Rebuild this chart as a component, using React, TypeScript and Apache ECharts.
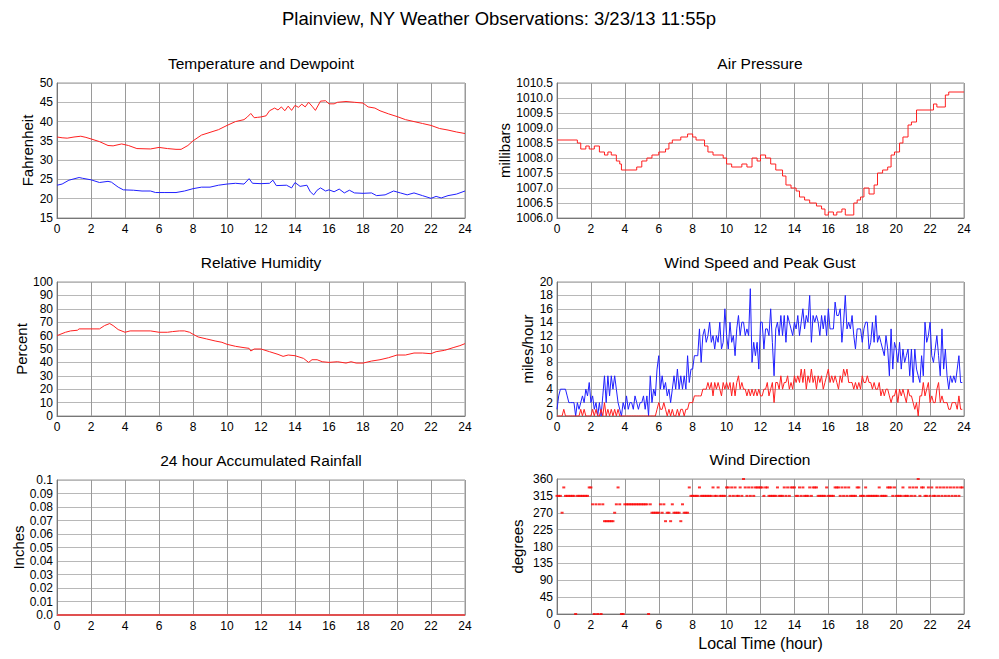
import React, { useEffect, useRef } from "react";
import * as echarts from "echarts";

const FONT = '"Liberation Sans", Arial, Helvetica, sans-serif';

const mainTitle = "Plainview, NY Weather Observations: 3/23/13 11:55p";
const hourTicks = [0, 2, 4, 6, 8, 10, 12, 14, 16, 18, 20, 22, 24];

// Temperature (F) [hour, value]
const temperature: [number, number][] = [
  [0, 36], [0.3, 35.8], [0.6, 35.7], [1, 36], [1.4, 36.2], [1.7, 35.9], [2, 35.5], [2.5, 34.8], [3, 33.8], [3.3, 33.7],
  [3.8, 34.2], [4.2, 33.8], [4.7, 33.0], [5.5, 32.9], [6, 33.3], [6.5, 33.0], [7, 32.8], [7.3, 32.8], [7.7, 33.8],
  [8, 35], [8.5, 36.5], [9, 37.2], [9.5, 37.9], [10, 39.0], [10.5, 40.0], [11, 40.5], [11.2, 41.2], [11.4, 42.1],
  [11.6, 41.0], [11.8, 41.1], [12, 41.2], [12.3, 41.5], [12.5, 42.8], [12.8, 43.5], [13, 43.0], [13.2, 43.8],
  [13.4, 42.8], [13.6, 44.0], [13.8, 42.9], [14, 44.2], [14.2, 43.7], [14.4, 44.5], [14.6, 43.8], [14.8, 45.0],
  [15.0, 44.0], [15.2, 42.9], [15.5, 45.3], [15.8, 45.4], [16, 44.6], [16.3, 44.6], [16.5, 45.0], [17, 45.2],
  [17.5, 45.0], [18, 44.8], [18.3, 43.8], [18.7, 43.5], [19, 42.8], [19.5, 42.0], [20, 41.3], [20.5, 40.5],
  [21, 40.0], [21.5, 39.5], [22, 39.0], [22.5, 38.2], [23, 37.8], [23.5, 37.3], [24, 36.9],
];

// Dewpoint (F)
const dewpoint: [number, number][] = [
  [0, 23.5], [0.3, 23.8], [0.7, 24.8], [1.3, 25.5], [1.5, 25.3], [2, 24.9], [2.5, 24.2], [3, 24.5], [3.2, 24.3],
  [3.6, 23.0], [3.9, 22.3], [4.5, 22.2], [5, 22.0], [5.5, 22.0], [5.8, 21.6], [6.3, 21.6], [7, 21.6], [7.5, 22.0],
  [8, 22.6], [8.5, 23.0], [9, 23.0], [9.5, 23.5], [10, 23.8], [10.5, 24.0], [11, 23.8], [11.3, 25.2], [11.5, 24.0],
  [12, 23.9], [12.5, 24.0], [12.7, 24.8], [12.9, 23.4], [13.5, 23.5], [13.8, 22.8], [14, 24.2], [14.3, 23.2],
  [14.7, 23.5], [14.9, 21.8], [15.1, 21.0], [15.3, 22.2], [15.5, 22.8], [15.8, 22.0], [16, 22.3], [16.3, 21.8],
  [16.6, 22.5], [16.9, 21.5], [17.2, 22.2], [17.5, 21.5], [18, 21.4], [18.5, 21.5], [18.8, 20.8], [19.3, 21.0],
  [19.8, 22.0], [20.2, 21.5], [20.6, 21.0], [21, 21.5], [21.5, 20.8], [22, 20.1], [22.3, 20.6], [22.6, 20.2],
  [23, 20.8], [23.5, 21.2], [24, 22.0],
];

// Air pressure (mb), value starting at given hour
const pressure: [number, number][] = [
  [0, 1008.6], [1.2, 1008.5], [1.4, 1008.3], [1.7, 1008.4], [1.9, 1008.3], [2.2, 1008.4], [2.5, 1008.2],
  [2.8, 1008.1], [3.0, 1008.2], [3.2, 1008.1], [3.5, 1007.9], [3.7, 1007.8], [3.8, 1007.6], [4.7, 1007.7],
  [5.0, 1007.9], [5.3, 1008.0], [5.6, 1008.1], [6.0, 1008.2], [6.4, 1008.3], [6.6, 1008.5], [6.8, 1008.6],
  [7.3, 1008.7], [7.7, 1008.8], [8.0, 1008.7], [8.2, 1008.6], [8.7, 1008.4], [8.9, 1008.2], [9.2, 1008.1],
  [9.8, 1008.0], [10.0, 1007.8], [10.3, 1007.7], [10.9, 1007.8], [11.2, 1007.7], [11.5, 1008.0], [11.8, 1007.9],
  [12.0, 1008.1], [12.3, 1008.0], [12.6, 1007.8], [12.9, 1007.6], [13.3, 1007.4], [13.5, 1007.1], [13.8, 1007.0],
  [14.1, 1006.9], [14.3, 1006.7], [14.6, 1006.6], [14.9, 1006.5], [15.3, 1006.4], [15.6, 1006.3], [15.8, 1006.1],
  [16.0, 1006.2], [16.3, 1006.1], [16.5, 1006.2], [16.8, 1006.3], [17.0, 1006.1], [17.5, 1006.5], [17.7, 1006.6],
  [17.9, 1006.7], [18.1, 1007.0], [18.4, 1006.8], [18.7, 1007.1], [18.9, 1007.5], [19.2, 1007.6], [19.5, 1007.7],
  [19.7, 1008.1], [19.9, 1008.2], [20.2, 1008.5], [20.4, 1008.7], [20.7, 1009.1], [20.9, 1009.2], [21.2, 1009.6],
  [22.2, 1009.8], [22.4, 1009.7], [22.9, 1010.1], [23.1, 1010.2], [24, 1010.2],
];

// Relative humidity (%)
const humidity: [number, number][] = [
  [0, 60], [0.5, 62.5], [0.8, 63.5], [1.2, 64], [1.3, 65], [2, 65], [2.5, 65], [2.8, 67.5], [3.1, 69], [3.3, 67.5],
  [3.6, 64.5], [4, 62.5], [4.3, 63.5], [5, 63.5], [5.5, 63.5], [6, 62.5], [6.5, 62.5], [6.8, 63], [7.2, 63.5],
  [7.5, 63.5], [7.8, 62.5], [8, 61], [8.3, 59], [8.8, 57.5], [9.3, 56], [9.7, 55], [10, 53.5], [10.5, 52], [11, 51],
  [11.3, 50.5], [11.4, 48.5], [11.6, 50], [12, 50], [12.5, 48], [13, 46], [13.3, 44.5], [13.6, 45.5], [14, 45],
  [14.5, 43], [14.8, 40], [15, 42], [15.3, 42], [15.6, 40.5], [16, 40], [16.5, 40.5], [17, 39.5], [17.3, 40.5],
  [17.6, 39.5], [18, 39.5], [18.5, 41], [19, 42], [19.5, 43.5], [20, 45.5], [20.5, 45.5], [21, 47], [21.5, 47],
  [22, 46.5], [22.3, 48], [22.8, 49], [23.3, 51], [23.7, 52.5], [24, 54],
];

// Wind gust (mph), every 0.1 hour from 0.0 to 23.9
const windGust = [
  1, 3, 4, 4, 4, 4, 3, 2, 2, 2,
  2, 0, 2, 1, 2, 3, 2, 4, 3, 5,
  2, 3, 1, 2, 0, 2, 0, 3, 6, 2,
  6, 3, 6, 4, 6, 4, 2, 1, 0, 2,
  1, 3, 1, 2, 2, 1, 3, 2, 1, 2,
  2, 3, 1, 3, 0, 6, 2, 4, 3, 7,
  9, 4, 6, 4, 5, 3, 4, 2, 4, 6,
  4, 7, 4, 6, 4, 6, 4, 9, 5, 7,
  7, 9, 9, 9, 13, 8, 12, 13, 11, 12,
  14, 11, 12, 10, 12, 11, 14, 10, 11, 16,
  12, 10, 14, 11, 12, 9, 13, 15, 12, 14,
  14, 12, 13, 12, 19, 8, 11, 9, 11, 7,
  14, 14, 10, 13, 13, 12, 16, 11, 6, 13,
  14, 12, 15, 12, 15, 11, 15, 14, 13, 12,
  14, 13, 15, 12, 14, 16, 13, 15, 14, 18,
  11, 15, 14, 15, 14, 12, 15, 13, 15, 12,
  16, 13, 13, 13, 17, 15, 15, 16, 11, 14,
  18, 13, 14, 13, 15, 12, 10, 13, 13, 13,
  11, 13, 14, 14, 10, 11, 14, 11, 15, 11,
  12, 11, 10, 9, 12, 10, 6, 13, 7, 11,
  10, 8, 11, 7, 10, 8, 9, 10, 6, 10,
  5, 10, 7, 6, 5, 9, 6, 14, 11, 12,
  14, 9, 8, 10, 12, 9, 6, 13, 7, 10,
  6, 4, 6, 5, 6, 5, 7, 9, 5, 5,
];

// Wind speed (mph), every 0.1 hour from 0.0 to 23.9
const windSpeed = [
  0, 0, 0, 0, 1, 0, 0, 0, 0, 0,
  0, 0, 0, 0, 1, 0, 1, 0, 0, 0,
  0, 1, 0, 1, 0, 0, 1, 0, 2, 0,
  1, 0, 1, 0, 1, 0, 1, 0, 0, 0,
  0, 0, 0, 0, 0, 0, 0, 0, 0, 0,
  0, 0, 0, 0, 0, 0, 0, 0, 0, 1,
  2, 1, 1, 2, 1, 0, 1, 0, 1, 0,
  0, 1, 0, 1, 1, 0, 1, 1, 2, 2,
  2, 3, 3, 3, 3, 3, 4, 4, 4, 5,
  4, 5, 3, 5, 4, 5, 4, 3, 5, 4,
  5, 4, 5, 3, 5, 3, 5, 6, 4, 5,
  4, 4, 3, 4, 3, 4, 3, 4, 3, 4,
  3, 3, 4, 4, 5, 3, 4, 5, 2, 5,
  5, 4, 6, 4, 5, 5, 6, 4, 5, 4,
  6, 5, 6, 5, 7, 5, 7, 4, 6, 5,
  7, 5, 6, 4, 6, 5, 6, 4, 5, 6,
  7, 5, 6, 5, 6, 5, 4, 6, 5, 7,
  6, 7, 5, 5, 5, 4, 5, 4, 5, 4,
  6, 5, 5, 6, 5, 5, 4, 5, 4, 4,
  5, 3, 4, 3, 4, 4, 3, 2, 3, 3,
  4, 2, 4, 3, 4, 3, 2, 4, 3, 3,
  2, 1, 2, 0, 3, 3, 5, 3, 4, 5,
  2, 3, 2, 2, 4, 5, 2, 3, 2, 2,
  2, 1, 1, 2, 2, 2, 1, 3, 1, 1,
];

// Wind direction (degrees), every 0.1 hour from 0.0 to 23.9
const windDirection = [
  315, 315, 315, 270, 337.5, 315, 315, 315, 315, 315,
  315, 0, 315, 315, 315, 315, 315, 315, 315, 337.5,
  337.5, 292.5, 0, 292.5, 0, 292.5, 0, 292.5, 247.5, 247.5,
  247.5, 247.5, 247.5, 247.5, 270, 292.5, 337.5, 292.5, 0, 0,
  292.5, 292.5, 292.5, 292.5, 292.5, 292.5, 292.5, 292.5, 292.5, 292.5,
  292.5, 292.5, 292.5, 292.5, 0, 292.5, 270, 270, 270, 270,
  270, 292.5, 270, 292.5, 247.5, 270, 270, 247.5, 292.5, 270,
  270, 270, 270, 247.5, 292.5, 270, 270, 270, 337.5, 315,
  315, 315, 315, 315, 337.5, 315, 315, 315, 315, 315,
  315, 315, 337.5, 315, 315, 337.5, 315, 315, 315, 315,
  337.5, 337.5, 315, 337.5, 315, 337.5, 315, 315, 337.5, 315,
  360, 337.5, 315, 337.5, 315, 337.5, 315, 337.5, 337.5, 337.5,
  337.5, 337.5, 315, 337.5, 337.5, 315, 315, 315, 315, 315,
  337.5, 315, 315, 315, 337.5, 315, 337.5, 315, 337.5, 337.5,
  337.5, 315, 315, 337.5, 315, 337.5, 315, 315, 315, 337.5,
  315, 337.5, 337.5, 337.5, 315, 315, 315, 315, 315, 337.5,
  315, 315, 315, 315, 337.5, 337.5, 337.5, 315, 337.5, 315,
  337.5, 315, 337.5, 315, 315, 315, 315, 337.5, 337.5, 315,
  315, 315, 337.5, 315, 315, 315, 315, 315, 315, 315,
  337.5, 315, 315, 315, 315, 337.5, 337.5, 337.5, 315, 337.5,
  315, 315, 315, 315, 337.5, 315, 315, 315, 337.5, 315,
  337.5, 315, 337.5, 360, 315, 337.5, 337.5, 315, 315, 337.5,
  315, 337.5, 315, 315, 337.5, 315, 337.5, 315, 337.5, 315,
  337.5, 315, 337.5, 315, 337.5, 315, 337.5, 315, 337.5, 337.5,
];

// Rainfall accumulation (inches)
const rainfall: [number, number][] = [[0, 0], [24, 0]];

const panelTitles = [
  "Temperature and Dewpoint",
  "Air Pressure",
  "Relative Humidity",
  "Wind Speed and Peak Gust",
  "24 hour Accumulated Rainfall",
  "Wind Direction",
];
const yNames = ["Fahrenheit", "millibars", "Percent", "miles/hour", "Inches", "degrees"];
const xName = "Local Time (hour)";

const tenthHours = (vals: number[]) => vals.map((v, i) => [i / 10, v]);

export default function App() {
  const ref = useRef<HTMLDivElement>(null);
  useEffect(() => {
    if (!ref.current) return;
    const chart = echarts.init(ref.current, undefined, { renderer: "svg" });

    const grids = [
      { left: 57, top: 83, width: 408, height: 135 },
      { left: 557, top: 83, width: 407, height: 135 },
      { left: 57, top: 282, width: 408, height: 134 },
      { left: 557, top: 282, width: 407, height: 134 },
      { left: 57, top: 480, width: 408, height: 135 },
      { left: 557, top: 479, width: 407, height: 135 },
    ].map((g) => ({ ...g, show: true, borderColor: "#999", borderWidth: 1, backgroundColor: "#fff" }));

    const labelStyle = { color: "#000", fontFamily: FONT, fontSize: 12 };
    const xAxes = grids.map((_, i) => ({
      type: "value",
      gridIndex: i,
      min: 0,
      max: 24,
      interval: 2,
      axisLine: { show: true, lineStyle: { color: "#777", width: 1 } },
      axisTick: { show: false },
      axisLabel: { ...labelStyle, margin: 5 },
      splitLine: { show: true, lineStyle: { color: "#9a9a9a", width: 1 } },
      name: i === 5 ? xName : "",
      nameLocation: "middle",
      nameGap: 21,
      nameTextStyle: { color: "#000", fontFamily: FONT, fontSize: 16 },
    }));

    const yCfg = [
      { min: 15, max: 50, interval: 5, gap: 22, fmt: (v: number) => String(v) },
      { min: 1006, max: 1010.5, interval: 0.5, gap: 42, fmt: (v: number) => v.toFixed(1) },
      { min: 0, max: 100, interval: 10, gap: 28, fmt: (v: number) => String(v) },
      { min: 0, max: 20, interval: 2, gap: 22, fmt: (v: number) => String(v) },
      {
        min: 0, max: 0.1, interval: 0.01, gap: 31,
        fmt: (v: number) => {
          const r = Math.round(v * 100);
          if (r === 0) return "0.0";
          if (r === 10) return "0.1";
          return (r / 100).toFixed(2);
        },
      },
      { min: 0, max: 360, interval: 45, gap: 32, fmt: (v: number) => String(v) },
    ];
    const yAxes = yCfg.map((c, i) => ({
      type: "value",
      gridIndex: i,
      min: c.min,
      max: c.max,
      interval: c.interval,
      name: yNames[i],
      nameLocation: "middle",
      nameGap: c.gap,
      nameRotate: 90,
      nameTextStyle: { color: "#000", fontFamily: FONT, fontSize: 15 },
      axisLine: { show: true, lineStyle: { color: "#777", width: 1 } },
      axisTick: { show: false },
      axisLabel: { ...labelStyle, margin: 4, formatter: c.fmt },
      splitLine: { show: true, lineStyle: { color: "#b8b8b8", width: 1 } },
    }));

    const centers = [261, 760, 261, 760, 261, 760];
    const titleTops = [55, 55, 254, 254, 452, 451];
    const titles: any[] = [
      {
        text: mainTitle,
        left: 499,
        top: 9,
        textAlign: "center",
        padding: 0,
        textStyle: { color: "#000", fontFamily: FONT, fontSize: 18.5, fontWeight: "normal" },
      },
      ...panelTitles.map((t, i) => ({
        text: t,
        left: centers[i],
        top: titleTops[i],
        textAlign: "center",
        padding: 0,
        textStyle: { color: "#000", fontFamily: FONT, fontSize: 15.5, fontWeight: "normal" },
      })),
    ];

    const line = (idx: number, data: any[], color: string, extra: any = {}) => ({
      type: "line",
      xAxisIndex: idx,
      yAxisIndex: idx,
      data,
      showSymbol: false,
      symbol: "none",
      lineStyle: { color, width: 1 },
      itemStyle: { color },
      z: 3,
      ...extra,
    });

    chart.setOption({
      animation: false,
      backgroundColor: "#fff",
      textStyle: { fontFamily: FONT },
      title: titles,
      grid: grids,
      xAxis: xAxes,
      yAxis: yAxes,
      series: [
        line(0, temperature, "#ff2020"),
        line(0, dewpoint, "#2020ff"),
        line(1, pressure, "#ff2020", { step: "end" }),
        line(2, humidity, "#ff2020"),
        line(3, tenthHours(windGust), "#2020ff"),
        line(3, tenthHours(windSpeed), "#ff2020"),
        line(4, rainfall, "#e05050", { lineStyle: { color: "#e05050", width: 2 }, z: 5 }),
        {
          type: "scatter",
          xAxisIndex: 5,
          yAxisIndex: 5,
          data: tenthHours(windDirection),
          symbol: "rect",
          symbolSize: [3, 2],
          itemStyle: { color: "#ff0000" },
          z: 4,
        },
      ],
    });
    return () => chart.dispose();
  }, []);

  return (
    <div
      ref={ref}
      style={{ position: "fixed", left: 0, top: 0, width: 999, height: 659, background: "#fff" }}
    />
  );
}
